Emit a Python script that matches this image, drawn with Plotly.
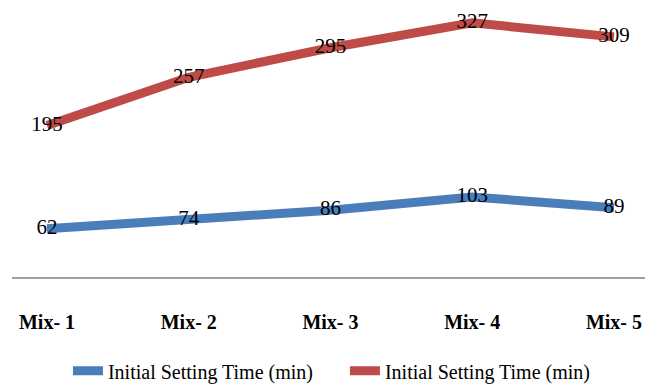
import plotly.graph_objects as go

categories = ["Mix- 1", "Mix- 2", "Mix- 3", "Mix- 4", "Mix- 5"]
initial_setting = [62, 74, 86, 103, 89]
final_setting = [195, 257, 295, 327, 309]
series_names = ["Initial Setting Time (min)", "Initial Setting Time (min)"]

label_font = dict(family="Liberation Serif", size=21, color="black")

fig = go.Figure()
fig.add_trace(go.Scatter(
    x=categories, y=initial_setting, name=series_names[0], mode="lines+text",
    text=[str(v) for v in initial_setting], textposition="middle center",
    textfont=label_font,
    line=dict(color="#4A7EBB", width=9), cliponaxis=False))
fig.add_trace(go.Scatter(
    x=categories, y=final_setting, name=series_names[1], mode="lines+text",
    text=[str(v) for v in final_setting], textposition="middle center",
    textfont=label_font,
    line=dict(color="#BE4B48", width=9), cliponaxis=False))

fig.update_layout(
    width=656, height=385,
    margin=dict(l=12, r=11, t=5, b=108, autoexpand=False),
    paper_bgcolor="white", plot_bgcolor="white",
    font=dict(family="Liberation Serif", color="black"),
    xaxis=dict(type="category", range=[-0.247, 4.219], showgrid=False,
               showline=True, linecolor="#A0A0A0", linewidth=1.5,
               ticks="", ticklabelstandoff=26, automargin=False,
               tickfont=dict(family="Liberation Serif", size=20, color="black", weight="bold")),
    yaxis=dict(range=[0, 350], showgrid=False, showline=False, zeroline=False,
               showticklabels=False, ticks="", automargin=False),
    legend=dict(orientation="h", x=0.526, xanchor="center", yref="paper",
                y=-0.345, yanchor="middle", itemwidth=30,
                entrywidth=232, entrywidthmode="pixels",
                font=dict(family="Liberation Serif", size=20, color="black")),
    showlegend=True,
)

fig.write_html("out.html", config={"displayModeBar": False},
               post_script="document.body.style.margin='0';")
